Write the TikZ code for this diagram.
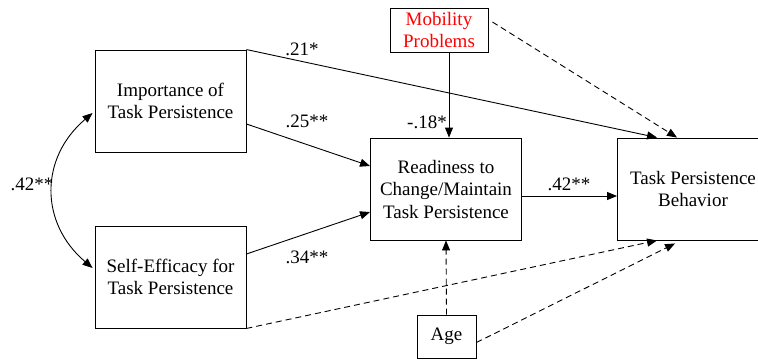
\documentclass[tikz,border=0pt]{standalone}
\usepackage{fontspec}
\setmainfont{Liberation Serif}
\usetikzlibrary{arrows.meta}

\begin{document}
\begin{tikzpicture}[x=1pt,y=-1pt,
  boite/.style={draw, line width=0.9pt, inner sep=0pt, align=center, font=\rmfamily\fontsize{19}{22.5}\selectfont},
  grande/.style={boite, minimum width=151pt, minimum height=102pt},
  fleche/.style={line width=0.9pt, -{Triangle[length=10pt,width=8pt]}},
  pointille/.style={fleche, dash pattern=on 6pt off 4pt},
  coef/.style={inner sep=0pt, font=\rmfamily\fontsize{19}{22.5}\selectfont}]
\useasboundingbox (0,0) rectangle (758,360);
% les boites
\node[grande] (imp) at (170.5,101) {Importance of\\Task Persistence};
\node[grande] (se) at (170.5,277) {Self-Efficacy for\\Task Persistence};
\node[grande] (read) at (446,189) {Readiness to\\Change/Maintain\\Task Persistence};
\node[grande] (tpb) at (693,189) {Task Persistence\\Behavior}; % coupee a droite
\node[boite, minimum width=98pt, minimum height=44pt, text=red] (mob) at (439,30) {Mobility\\Problems};
\node[boite, minimum width=59pt, minimum height=43pt] (age) at (446.5,336.5) {Age};
\coordinate (mobpied) at ([xshift=10pt]mob.south);
% chemins
\draw[fleche] (imp.north east) -- ([xshift=40pt]tpb.north west);
\draw[fleche] ([yshift=-23pt]imp.east) -- ([yshift=23pt]read.west);
\draw[fleche] ([yshift=23pt]se.east) -- ([yshift=-23pt]read.west);
\draw[fleche] ([yshift=-7pt]read.east) -- ([yshift=-7pt]tpb.west);
\draw[fleche] (mobpied) -- (mobpied |- read.north);
\draw[{Triangle[length=10pt,width=8pt]}-{Triangle[length=10pt,width=8pt]}, line width=0.9pt]
  ([shift={(-2,12)}]imp.west) .. controls +(-53,45) and +(-53,-45) .. ([shift={(-2,-9)}]se.west);
% effets non significatifs
\draw[pointille] ([shift={(4,-8)}]mob.east) -- ([xshift=60pt]tpb.north west);
\draw[pointille] (se.south east) -- ([xshift=40pt]tpb.south west);
\draw[pointille] (age.north) -- (read.south);
\draw[pointille] ([yshift=-6pt]age.east) -- ([shift={(58,3)}]tpb.south west);
% coefficients
\node[coef] (c21) at (302,49) {.21*};
\node[coef] (c25) at (307,121) {.25**};
\node[coef] (c34) at (307,257) {.34**};
\node[coef] (c42) at (569,184) {.42**};
\node[coef] (c18) at (427,122) {-.18*};
\node[coef] (r42) at (32,184) {.42**};
\end{tikzpicture}
\end{document}
